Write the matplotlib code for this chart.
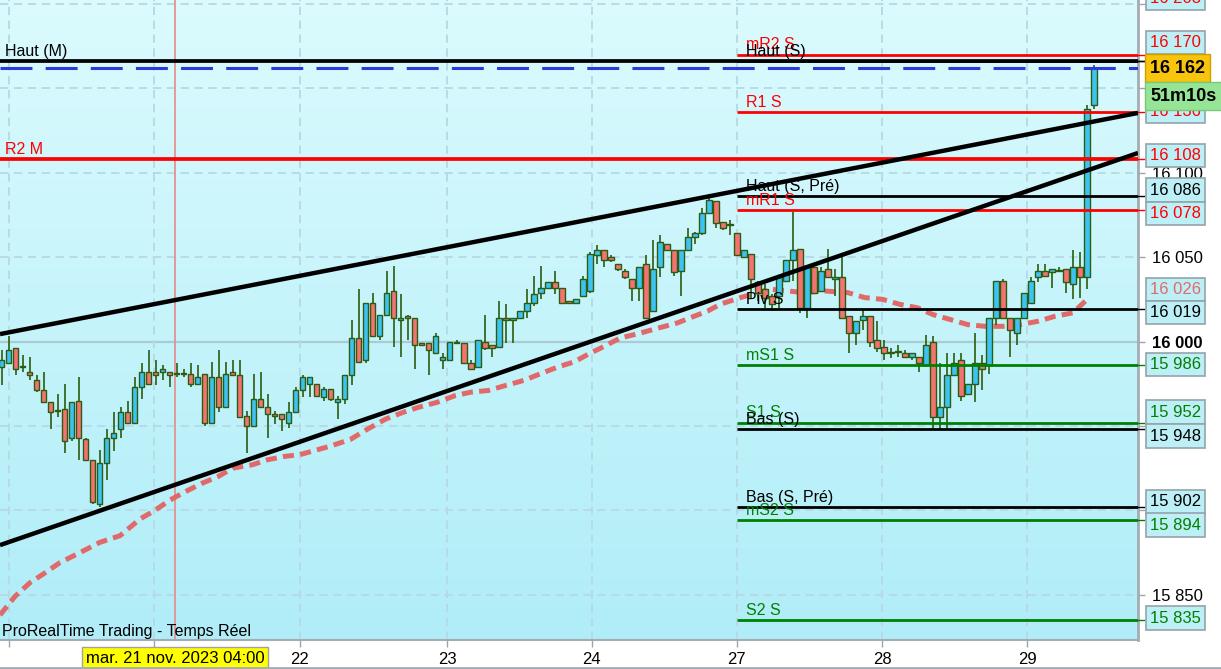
import matplotlib
matplotlib.use('Agg')
import matplotlib.pyplot as plt
import matplotlib.transforms as mtransforms
from matplotlib.colors import LinearSegmentedColormap
import numpy as np


# hourly DAX candles, 20-29 nov 2023 (open, high, low, close)
opens = [15985, 15987, 15996, 15985, 15982, 15977, 15971, 15964, 15959, 15960,
         15943, 15965, 15942, 15930, 15904, 15928, 15943, 15948, 15958, 15952,
         15973, 15982, 15982, 15982, 15982, 15981, 15981, 15981, 15975, 15981,
         15952, 15979, 15961, 15982, 15980, 15956, 15950, 15966, 15961, 15957,
         15957, 15952, 15958, 15971, 15975, 15975, 15967, 15972, 15964, 15966,
         15980, 16002, 15989, 16023, 16003, 16016, 16030, 16013, 16015, 16014,
         15999, 15999, 15993, 15989, 15989, 15999, 15999, 15987, 15985, 16000,
         15998, 15997, 16014, 16013, 16014, 16018, 16023, 16029, 16032, 16035,
         16032, 16024, 16023, 16027, 16030, 16051, 16054, 16050, 16046, 16042,
         16037, 16032, 16046, 16018, 16044, 16058, 16054, 16042, 16054, 16062,
         16064, 16076, 16083, 16071, 16069, 16064, 16050, 16052, 16035, 16031,
         16027, 16027, 16036, 16048, 16055, 16020, 16044, 16030, 16043, 16037,
         16038, 16015, 16005, 16013, 16015, 16001, 15997, 15993, 15994, 15993,
         15991, 15991, 15986, 16000, 15955, 15961, 15980, 15989, 15969, 15975,
         15987, 15986, 16014, 16036, 16014, 16005, 16014, 16023, 16038, 16042,
         16041, 16042, 16043, 16034, 16044, 16038, 16140]
highs = [15995, 16003, 15996, 15992, 15991, 15980, 15982, 15964, 15969, 15975,
         15964, 15979, 15943, 15930, 15936, 15948, 15958, 15961, 15965, 15979,
         15987, 15995, 15989, 15986, 15982, 15987, 15984, 15987, 15986, 15981,
         15988, 15995, 15988, 15989, 15989, 15959, 15981, 15982, 15969, 15959,
         15957, 15964, 15973, 15980, 15979, 15975, 15973, 15972, 15968, 15980,
         16013, 16031, 16023, 16029, 16016, 16042, 16045, 16028, 16016, 16014,
         15999, 15999, 16005, 15993, 16000, 16001, 15999, 15989, 16001, 16016,
         15998, 16024, 16022, 16014, 16018, 16031, 16039, 16045, 16035, 16042,
         16032, 16024, 16025, 16039, 16053, 16057, 16054, 16051, 16046, 16043,
         16037, 16044, 16051, 16060, 16063, 16058, 16054, 16054, 16067, 16065,
         16079, 16086, 16083, 16071, 16072, 16064, 16054, 16052, 16036, 16034,
         16028, 16039, 16048, 16077, 16055, 16045, 16044, 16044, 16055, 16043,
         16050, 16015, 16012, 16019, 16015, 16012, 16001, 15996, 15998, 15995,
         15993, 15991, 16004, 16003, 15987, 15993, 15993, 15993, 15975, 16005,
         15992, 16014, 16036, 16037, 16014, 16014, 16029, 16038, 16046, 16046,
         16043, 16044, 16043, 16054, 16053, 16140, 16164]
lows = [15974, 15987, 15980, 15982, 15977, 15970, 15964, 15948, 15955, 15934,
        15941, 15930, 15930, 15904, 15902, 15918, 15935, 15943, 15952, 15952,
        15966, 15975, 15974, 15977, 15973, 15979, 15979, 15973, 15974, 15950,
        15952, 15958, 15961, 15980, 15955, 15934, 15950, 15961, 15943, 15951,
        15947, 15949, 15958, 15967, 15967, 15968, 15965, 15965, 15954, 15963,
        15974, 15988, 15987, 16003, 16001, 16016, 15997, 15991, 16001, 15984,
        15998, 15980, 15993, 15984, 15989, 15999, 15987, 15984, 15985, 15995,
        15991, 15997, 15999, 15999, 16014, 16014, 16021, 16025, 16032, 16028,
        16023, 16023, 16023, 16027, 16029, 16046, 16044, 16047, 16042, 16037,
        16024, 16024, 16014, 16018, 16038, 16054, 16039, 16027, 16054, 16058,
        16063, 16076, 16067, 16066, 16063, 16051, 16050, 16025, 16024, 16020,
        16018, 16020, 16035, 16036, 16017, 16014, 16029, 16030, 16038, 16027,
        16014, 15993, 15998, 16007, 15997, 15994, 15989, 15990, 15991, 15991,
        15989, 15982, 15986, 15948, 15948, 15948, 15980, 15965, 15969, 15964,
        15971, 15981, 16010, 16014, 15991, 15998, 16014, 16023, 16035, 16039,
        16032, 16041, 16029, 16025, 16026, 16031, 16138]
closes = [15989, 15995, 15984, 15985, 15980, 15971, 15964, 15958, 15959, 15941,
          15964, 15943, 15930, 15905, 15928, 15943, 15946, 15958, 15952, 15973,
          15982, 15975, 15980, 15984, 15980, 15981, 15981, 15975, 15979, 15952,
          15979, 15961, 15981, 15980, 15955, 15950, 15966, 15961, 15957, 15956,
          15954, 15958, 15971, 15979, 15979, 15968, 15972, 15966, 15966, 15980,
          16002, 15988, 16023, 16003, 16016, 16029, 16014, 16014, 16014, 15998,
          15998, 15995, 16003, 15991, 16000, 15999, 15987, 15984, 16001, 15996,
          15996, 16014, 16013, 16014, 16018, 16023, 16028, 16032, 16035, 16032,
          16023, 16023, 16025, 16037, 16052, 16054, 16048, 16048, 16043, 16038,
          16032, 16044, 16014, 16043, 16059, 16054, 16041, 16054, 16062, 16064,
          16076, 16084, 16070, 16067, 16069, 16051, 16054, 16037, 16029, 16026,
          16022, 16038, 16048, 16054, 16020, 16045, 16029, 16042, 16038, 16038,
          16014, 16005, 16012, 16015, 16000, 15996, 15993, 15993, 15994, 15991,
          15993, 15987, 15998, 15955, 15961, 15980, 15987, 15968, 15975, 15987,
          15984, 16014, 16036, 16014, 16007, 16014, 16029, 16036, 16042, 16039,
          16043, 16042, 16035, 16044, 16038, 16138, 16162]

# moving average (dashed), candle index / price
ma_x = [-0.24, 1.9, 4.0, 6.2, 8.3, 11.2, 14.0, 16.9, 19.8, 21.9, 24.0, 26.2,
        28.6, 30.9, 33.0, 35.8, 38.0, 40.5, 42.6, 46.9, 49.8, 52.2, 54.8, 57.3,
        59.5, 62.2, 64.8, 67.0, 69.5, 72.0, 74.6, 77.0, 79.5, 81.8, 84.0, 85.5,
        88.3, 91.2, 93.8, 96.5, 98.3, 100.8, 102.6, 105.5, 109.8, 114.5, 117.3,
        120.8, 123.3, 125.8, 128.3, 130.8, 133.0, 135.5, 138.0, 140.5, 143.0,
        145.5, 148.0, 150.5, 153.0, 155.3]
ma_y = [15838, 15849, 15857, 15863, 15869, 15875, 15881, 15885, 15895, 15900,
        15906, 15911, 15916, 15920, 15925, 15927, 15930, 15932, 15933, 15938,
        15942, 15948, 15954, 15958, 15961, 15964, 15968, 15970, 15971, 15974,
        15977, 15981, 15985, 15988, 15993, 15996, 16002, 16005, 16008, 16011,
        16014, 16018, 16022, 16026, 16031, 16029, 16030, 16029, 16026, 16025,
        16022, 16020, 16016, 16013, 16010, 16009, 16009, 16010, 16012, 16015,
        16017, 16026]

# trend lines (start / end in index, price)
upper_trend = [(-0.24, 16004.4), (162.3, 16135.4)]
lower_trend = [(-0.24, 15879.4), (162.3, 16111.7)]

# weekly levels, drawn from monday 27
week_names = ['', 'mR2 S', 'Haut (S)', 'R1 S', 'Haut (S, Pré)', 'mR1 S', 'Piv S',
              'mS1 S', 'S1 S', 'Bas (S)', 'Bas (S, Pré)', 'mS2 S', 'S2 S']
week_values = [16203, 16170, 16166, 16136, 16086, 16078, 16019,
               15986, 15952, 15948, 15902, 15894, 15835]
week_kind = ['r', 'r', 'k', 'r', 'k', 'r', 'k', 'g', 'g', 'k', 'k', 'g', 'g']

# monthly levels, full width
month_names = ['Haut (M)', 'R2 M']
month_values = [16166, 16108]
month_kind = ['k', 'r']

last_price = 16162
timer_text = '51m10s'

# right-hand value boxes: value shown, where the box sits, colour
box_values = [16203, 16170, 16136, 16108, 16086, 16078, 16026, 16019,
              15986, 15952, 15948, 15902, 15894, 15835]
box_pos = [16203, 16177, 16136.5, 16110, 16089.7, 16076, 16031, 16017,
           15986.4, 15958.2, 15944, 15905, 15891.3, 15836.2]
box_kind = ['r', 'r', 'r', 'r', 'k', 'r', 'm', 'k', 'g', 'g', 'k', 'k', 'g', 'g']

y_ticks = [15850, 15900, 15950, 16000, 16050, 16100, 16150, 16200]
day_ticks = [1.0, 21.8, 42.6, 63.6, 84.3, 105.0, 125.8, 146.5]
day_labels = ['', '', '22', '23', '24', '27', '28', '29']
cross_idx = 24.76
cross_label = 'mar. 21 nov. 2023 04:00'

KIND_COLOR = {'r': '#ff0000', 'k': '#000000', 'g': '#008000', 'm': '#e06a6a'}


def fmt(v):
    return f"{v:,}".replace(',', ' ')


plt.rcParams['font.family'] = ['Liberation Sans', 'DejaVu Sans']
plt.rcParams['lines.scale_dashes'] = False

fig = plt.figure(figsize=(12.21, 6.69), dpi=100)
ax = fig.add_axes([0, 29 / 669, 1138 / 1221, 640 / 669])

xmin, xmax = -0.24, 162.3
ymin, ymax = 15823.2, 16202.3

bg = LinearSegmentedColormap.from_list('bg', ['#dbfbfe', '#b0edf8'])
ax.imshow(np.linspace(0, 1, 256).reshape(-1, 1), extent=[xmin, xmax, ymin, ymax],
          aspect='auto', cmap=bg, zorder=0, interpolation='bilinear')

# grid
for v in y_ticks:
    if v == 16000:
        ax.axhline(v, color='#a9cbd3', lw=1.6, zorder=1)
    else:
        ax.axhline(v, color='#b6d9e2', lw=1.3, dashes=(6, 4), zorder=1)
for d in day_ticks:
    ax.axvline(d, color='#b6d9e2', lw=1.3, dashes=(6, 4), zorder=1)

ax.axvline(cross_idx, color='#e88a8a', lw=1.2, zorder=1.5)

# moving average
ax.plot(ma_x, ma_y, color='#e06a6a', lw=3.6, dashes=(8, 4.5), solid_capstyle='butt',
        dash_capstyle='butt', zorder=2)

# trend lines
for tl in (upper_trend, lower_trend):
    ax.plot([tl[0][0], tl[1][0]], [tl[0][1], tl[1][1]], color='black', lw=3.2,
            zorder=4, solid_capstyle='butt')

# candles
idx = np.arange(len(opens))
o = np.array(opens, float)
c = np.array(closes, float)
h = np.array(highs, float)
l = np.array(lows, float)
edge = '#2b5c0f'
ax.vlines(idx, l, h, color=edge, lw=1.2, zorder=3)
body_low = np.minimum(o, c)
body_h = np.maximum(np.abs(c - o), 0.6)
fills = ['#3dc3f2' if cc > oo else ('#f47272' if cc < oo else edge) for oo, cc in zip(o, c)]
ax.bar(idx, body_h, bottom=body_low, width=0.78, color=fills, edgecolor=edge,
       linewidth=1.0, zorder=3.2)

# weekly levels
for name, v, k in zip(week_names, week_values, week_kind):
    col = KIND_COLOR[k]
    ax.plot([105.0, xmax], [v, v], color=col, lw=2.0, zorder=3.5, solid_capstyle='butt')
    ax.plot([xmax, xmax + 0.85], [v, v], color=col, lw=1.0, clip_on=False, zorder=3.5)
    if name:
        ax.annotate(name, (106.3, v), xytext=(0, 1.5), textcoords='offset points',
                    color=col, fontsize=11.5, va='bottom', ha='left', zorder=5)

# monthly levels
for name, v, k in zip(month_names, month_values, month_kind):
    col = KIND_COLOR[k]
    ax.plot([xmin, xmax], [v, v], color=col, lw=2.7, zorder=3.6, solid_capstyle='butt')
    ax.plot([xmax, xmax + 0.85], [v, v], color=col, lw=1.0, clip_on=False, zorder=3.5)
    ax.annotate(name, (0.5, v), xytext=(0, 1.5), textcoords='offset points',
                color=col, fontsize=11.5, va='bottom', ha='left', zorder=5)

# current price dashed line
ax.plot([xmin, xmax], [last_price, last_price], color='#2f38d8', lw=2.2,
        dashes=(23, 9.5), zorder=3.7)

ax.set_xlim(xmin, xmax)
ax.set_ylim(ymin, ymax)

# axes styling
for side in ('top', 'left'):
    ax.spines[side].set_visible(False)
ax.spines['right'].set_color('#a2acb2')
ax.spines['right'].set_linewidth(2)
ax.spines['bottom'].set_color('#a2acb2')
ax.spines['bottom'].set_linewidth(1.5)

ax.yaxis.tick_right()
ax.set_yticks(y_ticks)
ax.set_yticklabels([fmt(v) for v in y_ticks])
for t, v in zip(ax.get_yticklabels(), y_ticks):
    if v == 16000:
        t.set_fontweight('bold')
ax.tick_params(axis='y', length=5, width=1, color='#9aa4aa', pad=5, labelsize=12)
ax.set_xticks(day_ticks)
ax.set_xticklabels(day_labels)
ax.tick_params(axis='x', length=5, width=1, color='#9aa4aa', pad=4, labelsize=12)

# right boxes
blend_y = mtransforms.blended_transform_factory(ax.transAxes, ax.transData)
for v, pos, k in zip(box_values, box_pos, box_kind):
    ax.text(1.0105, pos, fmt(v), transform=blend_y, color=KIND_COLOR[k], fontsize=12,
            va='center', ha='left', zorder=6,
            bbox=dict(boxstyle='square,pad=0.25', fc='#bdeff7', ec='#93a3aa', lw=1.2))

ax.text(1.0105, last_price, fmt(last_price), transform=blend_y, color='black',
        fontsize=13, fontweight='bold', va='center', ha='left', zorder=8,
        bbox=dict(boxstyle='square,pad=0.3', fc='#f8c40c', ec='#d0a000', lw=1))
ax.text(1.0105, 16145.4, timer_text, transform=blend_y, color='black',
        fontsize=13, fontweight='bold', va='center', ha='left', zorder=8,
        bbox=dict(boxstyle='square,pad=0.3', fc='#96e496', ec='#78c878', lw=1))

# bottom texts
ax.text(0.002, 0.014, 'ProRealTime Trading - Temps Réel', transform=ax.transAxes,
        fontsize=11.5, va='center', ha='left', zorder=6)
blend_x = mtransforms.blended_transform_factory(ax.transData, ax.transAxes)
ax.text(cross_idx, -0.0285, cross_label, transform=blend_x, fontsize=12,
        va='center', ha='center', zorder=9, clip_on=False,
        bbox=dict(boxstyle='square,pad=0.2', fc='#ffff00', ec='#a0a0a0', lw=1))

fig.add_artist(plt.Line2D([0, 1], [1.5 / 669, 1.5 / 669], color='#a2acb2', lw=2,
                          transform=fig.transFigure))

fig.savefig('out.png', dpi=100)
